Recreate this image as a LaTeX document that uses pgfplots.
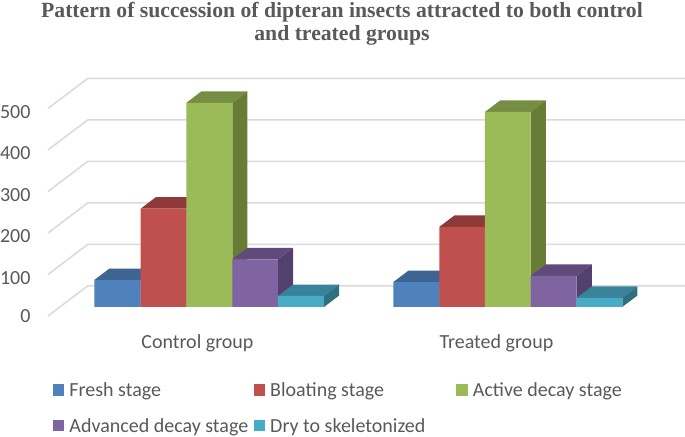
\documentclass[border=0pt]{standalone}
\usepackage{fontspec}
\setmainfont{Carlito}
\newfontfamily\titlefont{Liberation Serif}
\usepackage{pgfplots}
\pgfplotsset{compat=1.18}
\definecolor{gridc}{HTML}{DADADA}
\definecolor{txt}{HTML}{595959}
\definecolor{fa}{HTML}{4F81BD}\definecolor{ta}{HTML}{3E6491}\definecolor{sa}{HTML}{375A80}
\definecolor{fb}{HTML}{C0504D}\definecolor{tb}{HTML}{8F3A38}\definecolor{sb}{HTML}{7F3533}
\definecolor{fc}{HTML}{9BBB59}\definecolor{tc}{HTML}{768E43}\definecolor{sc}{HTML}{677D35}
\definecolor{fd}{HTML}{8064A2}\definecolor{td}{HTML}{604A7B}\definecolor{sd}{HTML}{54406C}
\definecolor{fe}{HTML}{47ABC6}\definecolor{te}{HTML}{38839A}\definecolor{se}{HTML}{2F7080}
% x1, x2, value, colour letter, legend flag
\newcommand{\threeD}[5]{%
  \addplot3[forget plot,draw=none,fill=t#4] coordinates {(#1,0.3,#3) (#2,0.3,#3) (#2,0.683,#3) (#1,0.683,#3) (#1,0.3,#3)};
  \addplot3[forget plot,draw=none,fill=s#4] coordinates {(#2,0.3,0) (#2,0.683,0) (#2,0.683,#3) (#2,0.3,#3) (#2,0.3,0)};
  \addplot3[#5,draw=none,fill=f#4] coordinates {(#1,0.3,0) (#2,0.3,0) (#2,0.3,#3) (#1,0.3,#3) (#1,0.3,0)};
}
\newcommand{\gridl}[1]{%
  \addplot3[forget plot,gridc,line width=1.5pt] coordinates {(48,0,#1) (48,1,#1) (645.4,1,#1)};
}
\begin{document}
\begin{tikzpicture}
\begin{axis}[
  x={(1pt,0pt)}, y={(39.6pt,30pt)}, z={(0pt,0.415pt)},
  xmin=48, xmax=645.4, ymin=0, ymax=1, zmin=0, zmax=500,
  clip=false,
  axis line style={draw=none},
  major tick length=0pt,
  xtick={197,496}, xticklabels={Control group,Treated group},
  ytick=\empty,
  ztick={0,100,200,300,400,500},
  /pgf/number format/assume math mode=true,
  tick label style={font=\fontsize{20}{22}\selectfont, text=txt},
  x tick label style={xshift=6.5pt,yshift=-15pt},
  z tick label style={xshift=-14pt,yshift=3pt},
  legend columns=3,
  legend cell align=left,
  legend image code/.code={\path[#1] (0pt,-5.5pt) rectangle (11.5pt,6pt);},
  legend style={at={(axis cs:53,0,-156)},anchor=north west,draw=none,fill=none,
    font=\fontsize{20}{22}\selectfont, text=txt,
    row sep=16pt, inner sep=0pt, outer sep=0pt,
    /tikz/every odd column/.append style={column sep=3pt},
    /tikz/column 2/.style={column sep=3.5pt},
    /tikz/column 4/.style={column sep=29pt}},
]
\coordinate (bl) at (axis cs:0,0,-291.57);
\coordinate (tr) at (axis cs:685,0,761.45);
\gridl{0}\gridl{100}\gridl{200}\gridl{300}\gridl{400}\gridl{500}
\threeD{82.4}{128.8}{65}{a}{}
\threeD{128.8}{174.4}{237}{b}{}
\threeD{174.4}{220.4}{492}{c}{}
\threeD{220.4}{266.1}{115}{d}{}
\threeD{266.1}{312.1}{26.5}{e}{}
\threeD{381.4}{427.4}{60}{a}{forget plot}
\threeD{427.4}{473.1}{193}{b}{forget plot}
\threeD{473.1}{518.8}{470}{c}{forget plot}
\threeD{518.8}{564.8}{75}{d}{forget plot}
\threeD{564.8}{610.4}{22}{e}{forget plot}
\legend{Fresh stage,Bloating stage,Active decay stage,Advanced decay stage,Dry to skeletonized}
\node[font=\titlefont\bfseries\fontsize{21.7}{23}\selectfont, text=txt, align=center, anchor=north, inner sep=0pt]
  at (axis cs:342,0,756.6) {Pattern of succession of dipteran insects attracted to both control\\and treated groups};
\end{axis}
\pgfresetboundingbox
\useasboundingbox (bl) rectangle (tr);
\end{tikzpicture}
\end{document}
